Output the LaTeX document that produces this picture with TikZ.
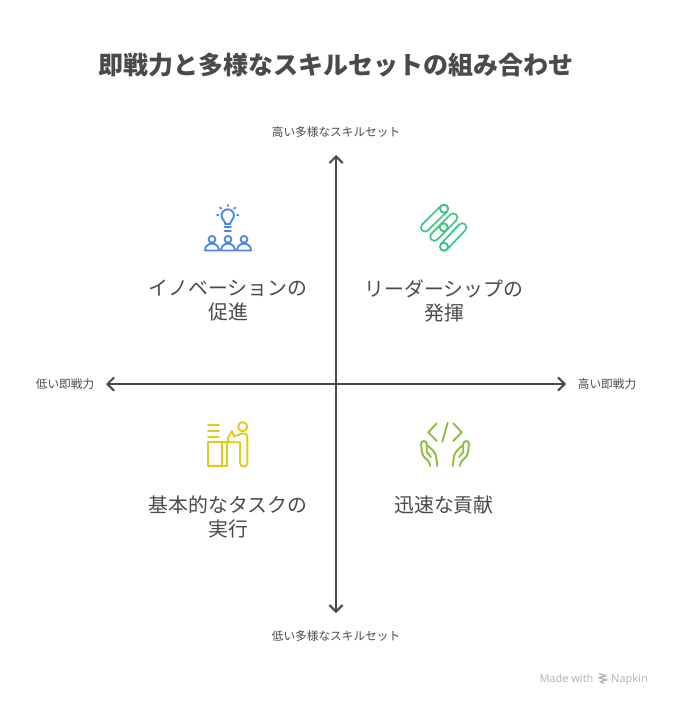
\documentclass[tikz,border=0pt]{standalone}
\usepackage{fontspec}
\setmainfont{Noto Sans CJK JP}
\newfontfamily\brandfont{Noto Sans}
\usetikzlibrary{calc}
\usetikzlibrary{arrows.meta}

\definecolor{inkgray}{HTML}{4A4A4A}
\definecolor{iconblue}{HTML}{4E86E4}
\definecolor{icongreen}{HTML}{3CC583}
\definecolor{iconyellow}{HTML}{E3C919}
\definecolor{iconlime}{HTML}{8CBC3F}
\definecolor{brandgray}{HTML}{B4B4B4}

\tikzset{
  titlelabel/.style={inkgray,inner sep=0pt,font=\fontsize{18.75}{22}\selectfont\bfseries},
  axislabel/.style={inkgray,inner sep=0pt,font=\fontsize{8.75}{10}\selectfont},
  quadlabel/.style={inkgray,inner sep=0pt,align=center,font=\fontsize{14.9}{18}\selectfont},
  axisline/.style={inkgray,line width=1.5pt,{Straight Barb[length=5pt,width=10pt]}-{Straight Barb[length=5pt,width=10pt]}},
  iconline/.style={line width=1.4pt,line cap=round,line join=round},
  capsule/.style={icongreen,line width=1.4pt,line cap=round,double=white,double distance=4.7pt},
  brandlabel/.style={brandgray,inner sep=0pt,anchor=base,font=\fontsize{8.2}{10}\selectfont\brandfont}
}

\begin{document}
\begin{tikzpicture}[x=0.75pt,y=-0.75pt]
      \useasboundingbox (0,0) rectangle (672,706);
      \node[titlelabel] (title) at (336,64.8) {即戦力と多様なスキルセットの組み合わせ};

      % axes
      \coordinate (axisTop) at (336,155);
      \coordinate (axisBottom) at (336,613);
      \coordinate (axisLeft) at (106,384);
      \coordinate (axisRight) at (566,384);
      \draw[axisline] (axisBottom) -- (axisTop);
      \draw[axisline] (axisLeft) -- (axisRight);
      \node[axislabel] (labelTop) at (336,132) {高い多様なスキルセット};
      \node[axislabel] (labelBottom) at (336,636) {低い多様なスキルセット};
      \node[axislabel] (labelLeft) at (65,384) {低い即戦力};
      \node[axislabel] (labelRight) at (607,384) {高い即戦力};

      \node[quadlabel] (innovation) at (228,300.7) {イノベーションの\\促進};
      \node[quadlabel] (leadership) at (444,300.7) {リーダーシップの\\発揮};
      \node[quadlabel] (basic) at (228,516.7) {基本的なタスクの\\実行};
      \node[quadlabel] (quick) at (444,504.7) {迅速な貢献};

      % bulb and people
      \begin{scope}[iconline,iconblue]
        \draw (225,224) -- (225,222.5) .. controls (225,220.5) and (221.5,219.5) .. (221.5,215.5)
          arc[start angle=180,end angle=360,radius=6.2] .. controls (233.9,219.5) and (230.5,220.5) .. (230.5,222.5) -- (230.5,224) -- cycle;
        \draw (224.5,227.3) -- (231,227.3);
        \draw (224.5,231) -- (231,231);
        \draw (227.7,205) -- (227.7,206);
        \draw (220,207.5) -- (221.3,208.8);
        \draw (235.4,207.5) -- (234.1,208.8);
        \draw (217,215) -- (218.5,215);
        \draw (237,215) -- (238.5,215);
        \foreach \px in {212,228,244} {
          \draw (\px,239.3) circle[radius=3.4];
          \draw (\px-7,250.5) arc[start angle=180,end angle=360,radius=7] -- cycle;
        }
      \end{scope}

      % capsules
      \draw[capsule] (444,208.7) -- (425,227.5);
      \draw[capsule] (453.3,217.5) -- (434.3,236.7);
      \draw[capsule] (462.3,227.3) -- (444,246.7);
      \draw[iconline,icongreen,fill=white] (443.7,227.3) circle[radius=4];
      \draw[iconline,icongreen,fill=white] (444,208.7) circle[radius=4];
      \draw[iconline,icongreen,fill=white] (444,246.7) circle[radius=4];

      % person at desk
      \begin{scope}[iconline,iconyellow]
        \draw (242.7,426.7) circle[radius=4.6];
        \draw (208,425) -- (219,425);
        \draw (208,430.7) -- (219,430.7);
        \draw (208,436.7) -- (219,436.7);
        \draw (208,442.3) rectangle (226.7,466);
        \draw (222.3,442.3) -- (222.3,466);
        \draw (226.7,442.3) -- (240,442.3) -- (240,463)
          arc[start angle=180,end angle=0,radius=3.7] -- (247.4,438)
          .. controls (247.4,434) and (245,433) .. (242,433.5) -- (234,436.5) -- (232,431)
          -- (228,438) .. controls (227,440) and (228,442.3) .. (230,442.3);
      \end{scope}

      % code and hands
      \begin{scope}[iconline,iconlime]
        \draw (436.7,423.3) -- (428.3,432.3) -- (436.7,441);
        \draw (447.7,422.7) -- (442.3,441.7);
        \draw (453.3,423.3) -- (461.7,432.3) -- (453.3,441);
        \foreach \sx in {1,-1} {
          \begin{scope}[shift={(445,0)},xscale=\sx]
            \draw (-15,466) -- (-15.5,463) .. controls (-17,459) and (-22.5,458) .. (-23,452)
              -- (-24,444) .. controls (-24,440) and (-18.3,440) .. (-18.3,444) -- (-18.3,452) -- (-14,457);
            \draw (-18.3,445) .. controls (-14,448) and (-10,452) .. (-9,456) -- (-7.7,466);
          \end{scope}
        }
      \end{scope}

      % brand mark
      \node[brandlabel] (madeWith) at (566.5,682) {Made with};
      \node[brandlabel] (napkin) at (629.5,682) {Napkin};
      \begin{scope}[brandgray,line width=1pt,line join=round]
        \draw (599,673.5) -- (606,676) -- (598.5,677.5) -- (607,680) -- (600,681.5) -- (604,683.5);
      \end{scope}
\end{tikzpicture}
\end{document}
